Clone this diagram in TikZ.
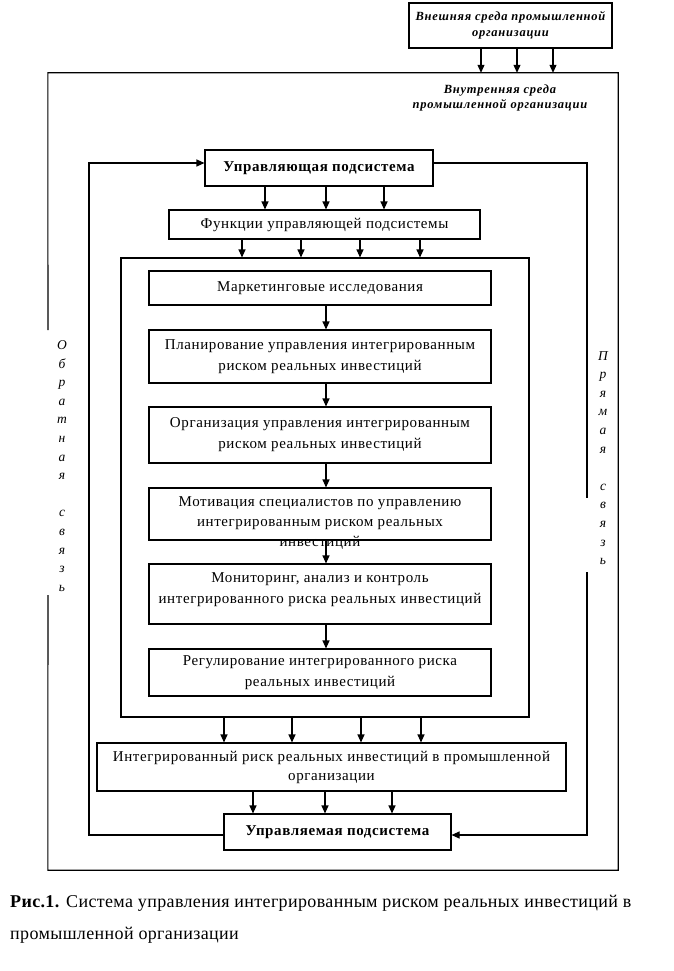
\documentclass[tikz,border=0pt]{standalone}
\usepackage{fontspec}
\setmainfont{Liberation Serif}
\newfontfamily\boxfont[LetterSpace=4]{Liberation Serif}
\newfontfamily\ebfont[LetterSpace=6]{Liberation Serif}
\newfontfamily\capfont[LetterSpace=2]{Liberation Serif}
\usetikzlibrary{arrows.meta,calc}
\begin{document}
\begin{tikzpicture}[x=1pt,y=-1pt,
  arr/.style={-{Triangle[width=7pt,length=8pt]}, line width=1.1pt},
  ln/.style={line width=1.1pt},
  box/.style={draw, line width=1.1pt, inner sep=0pt, align=center, font=\boxfont\fontsize{15}{21}\selectfont},
  plainbox/.style={draw, line width=1.1pt, inner sep=0pt},
  btext/.style={align=center, inner sep=0pt, font=\boxfont\fontsize{15}{20}\selectfont},
  bbox/.style={box, font=\boxfont\bfseries\fontsize{15}{20}\selectfont},
  bibox/.style={box, font=\ebfont\bfseries\itshape\fontsize{12.5}{16.5}\selectfont},
  vtext/.style={align=center, inner sep=0pt, font=\itshape\fontsize{13.5}{18.6}\selectfont}
]
\useasboundingbox (0,0) rectangle (674,971);

% external environment
\node[bibox, minimum width=203, minimum height=45] (ext) at (510.5,25.5) {Внешняя среда промышленной\\организации};

% internal environment frame (node for anchors, outline drawn with gap)
\node[inner sep=0pt, minimum width=570, minimum height=797] (inenv) at (333,471.5) {};
\draw[ln] (48,330) -- (inenv.north west) -- (inenv.north east) -- (inenv.south east) -- (inenv.south west) -- (48,595);
\node[align=center, inner sep=0pt, font=\ebfont\bfseries\itshape\fontsize{12.5}{15}\selectfont] (inlabel) at (500,98) {Внутренняя среда\\промышленной организации};

\foreach \x in {481,517,553} \draw[arr] (ext.south -| \x,0) -- (inenv.north -| \x,0);

% controlling subsystem
\node[bbox, minimum width=228, minimum height=36] (ctrl) at (319,168) {Управляющая подсистема};
\node[box, minimum width=311, minimum height=29] (func) at (324.5,224.5) {Функции управляющей подсистемы};
\foreach \x in {265,326,384} \draw[arr] (ctrl.south -| \x,0) -- (func.north -| \x,0);

% stages frame
\node[plainbox, minimum width=408, minimum height=459] (stages) at (325,487.5) {};
\foreach \x in {242,301,360,420} \draw[arr] (func.south -| \x,0) -- (stages.north -| \x,0);

\node[box, minimum width=342, minimum height=34] (mark) at (320,288) {Маркетинговые исследования};
\node[box, minimum width=342, minimum height=53] (plan) at (320,356.5) {Планирование управления интегрированным\\риском реальных инвестиций};
\node[box, minimum width=342, minimum height=56] (org) at (320,435) {Организация управления интегрированным\\риском реальных инвестиций};
\node[plainbox, minimum width=342, minimum height=52] (motiv) at (320,514) {};
\node[btext] (motivtext) at (320,523) {Мотивация специалистов по управлению\\интегрированным риском реальных\\инвестиций};
\node[plainbox, minimum width=342, minimum height=60] (monit) at (320,594) {};
\node[btext, font=\boxfont\fontsize{15}{21}\selectfont] (monittext) at (320,589.5) {Мониторинг, анализ и контроль\\интегрированного риска реальных инвестиций};
\node[box, minimum width=342, minimum height=47] (reg) at (320,672.5) {Регулирование интегрированного риска\\реальных инвестиций};

\draw[arr] (mark.south -| 326,0) -- (plan.north -| 326,0);
\draw[arr] (plan.south -| 326,0) -- (org.north -| 326,0);
\draw[arr] (org.south -| 326,0) -- (motiv.north -| 326,0);
\draw[arr] (motiv.south -| 326,0) -- (monit.north -| 326,0);
\draw[arr] (monit.south -| 326,0) -- (reg.north -| 326,0);

% integrated risk
\node[box, minimum width=469, minimum height=48, font=\boxfont\fontsize{15}{19}\selectfont] (risk) at (331.5,767) {Интегрированный риск реальных инвестиций в промышленной\\организации};
\foreach \x in {224,292,361,421} \draw[arr] (stages.south -| \x,0) -- (risk.north -| \x,0);

% controlled subsystem
\node[bbox, minimum width=227, minimum height=36] (obj) at (337.5,832) {Управляемая подсистема};
\foreach \x in {253,325,392} \draw[arr] (risk.south -| \x,0) -- (obj.north -| \x,0);

% feedback loops
\coordinate (fbL) at (89,500);
\coordinate (fbR1) at (587,498);
\coordinate (fbR2) at (587,572);
\draw[arr] ([yshift=-3pt]obj.west) -| (fbL) |- ([yshift=5pt]ctrl.west);
\draw[ln] ([yshift=5pt]ctrl.east) -| (fbR1);
\draw[arr] (fbR2) |- ([yshift=-3pt]obj.east);

\node[vtext] (fbtext) at (62,466) {О\\б\\р\\а\\т\\н\\а\\я\\[18.6pt]с\\в\\я\\з\\ь};
\node[vtext] (fftext) at (603,458) {П\\р\\я\\м\\а\\я\\[18.6pt]с\\в\\я\\з\\ь};

% caption
\node[anchor=west, inner sep=0pt, font=\capfont\fontsize{18}{32}\selectfont, align=left] (caption) at (10,919) {\textbf{Рис.1.} Система управления интегрированным риском реальных инвестиций в\\промышленной организации};
\end{tikzpicture}
\end{document}
